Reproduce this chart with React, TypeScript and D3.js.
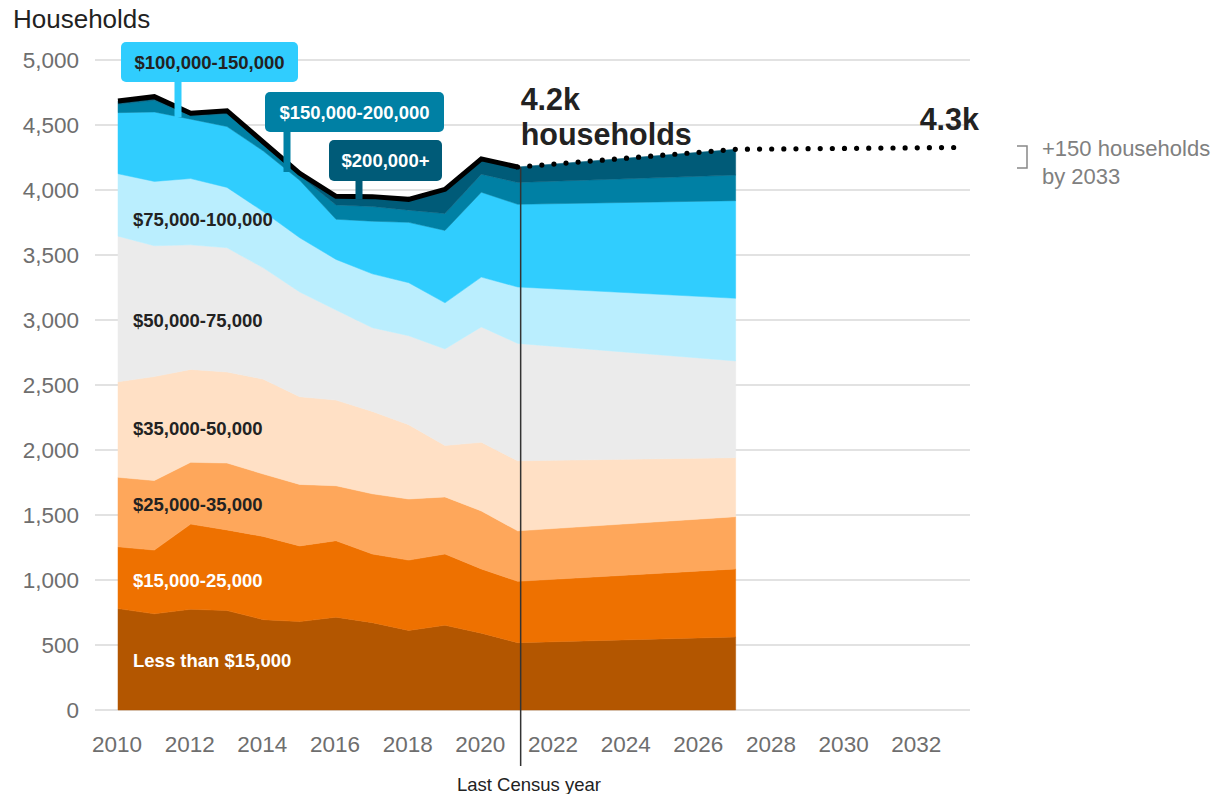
import React, { useRef, useEffect } from 'react';
import * as d3 from 'd3';

// Years with data (2010-2021 Census, 2027 projection).
const years = [2010, 2011, 2012, 2013, 2014, 2015, 2016, 2017, 2018, 2019, 2020, 2021, 2027];

// Households by income band.
const lessThan15k = [780, 740, 775, 765, 695, 680, 714, 672, 612, 652, 591, 518, 562];
const k15to25 = [475, 490, 655, 620, 640, 582, 588, 528, 541, 548, 494, 472, 523];
const k25to35 = [535, 535, 475, 515, 480, 473, 423, 463, 470, 439, 446, 388, 402];
const k35to50 = [735, 800, 715, 700, 730, 675, 659, 634, 572, 396, 528, 539, 454];
const k50to75 = [1120, 1006, 958, 956, 856, 806, 693, 644, 684, 742, 888, 903, 744];
const k75to100 = [480, 495, 510, 464, 433, 417, 389, 414, 408, 355, 383, 434, 482];
const k100to150 = [470, 534, 457, 468, 466, 442, 309, 405, 464, 557, 653, 636, 751];
const k150to200 = [65, 90, 25, 97, 45, 35, 110, 113, 94, 130, 139, 168, 197];
const k200plus = [25, 28, 20, 25, 24, 18, 66, 76, 83, 186, 117, 119, 198];

// Outlook to 2033.
const outlookYear = 2033;
const outlookTotal = 4327;
const lastCensusYear = 2021;

const yTicks = [0, 500, 1000, 1500, 2000, 2500, 3000, 3500, 4000, 4500, 5000];
const xTicks = [2010, 2012, 2014, 2016, 2018, 2020, 2022, 2024, 2026, 2028, 2030, 2032];

const series = [
  { key: 'lt15', label: 'Less than $15,000', values: lessThan15k, color: '#b35600' },
  { key: 'k15', label: '$15,000-25,000', values: k15to25, color: '#ee7100' },
  { key: 'k25', label: '$25,000-35,000', values: k25to35, color: '#fea75b' },
  { key: 'k35', label: '$35,000-50,000', values: k35to50, color: '#ffe0c5' },
  { key: 'k50', label: '$50,000-75,000', values: k50to75, color: '#ebebeb' },
  { key: 'k75', label: '$75,000-100,000', values: k75to100, color: '#baeefe' },
  { key: 'k100', label: '$100,000-150,000', values: k100to150, color: '#30cdfe' },
  { key: 'k150', label: '$150,000-200,000', values: k150to200, color: '#0080a4' },
  { key: 'k200', label: '$200,000+', values: k200plus, color: '#005b78' },
];

const FONT = '"Liberation Sans", Arial, sans-serif';

const App = () => {
  const ref = useRef<SVGSVGElement>(null);

  useEffect(() => {
    const svg = d3.select(ref.current);
    svg.selectAll('*').remove();

    const x = d3.scaleLinear().domain([2010, 2033.45]).range([118, 970]);
    const y = d3.scaleLinear().domain([0, 5000]).range([710, 60]);

    // Gridlines.
    svg.append('g')
      .selectAll('line')
      .data(yTicks)
      .join('line')
      .attr('x1', 95)
      .attr('x2', 970)
      .attr('y1', d => y(d))
      .attr('y2', d => y(d))
      .attr('stroke', '#d9d9d9')
      .attr('stroke-width', 1.5);

    // Y tick labels.
    svg.append('g')
      .selectAll('text')
      .data(yTicks)
      .join('text')
      .attr('x', 79)
      .attr('y', d => y(d) + 7.5)
      .attr('text-anchor', 'end')
      .style('font-family', FONT)
      .style('font-size', '22.5px')
      .attr('fill', '#6e6e6e')
      .text(d => d3.format(',')(d));

    // X tick labels.
    svg.append('g')
      .selectAll('text')
      .data(xTicks)
      .join('text')
      .attr('x', d => x(d) - 1)
      .attr('y', 752)
      .attr('text-anchor', 'middle')
      .style('font-family', FONT)
      .style('font-size', '22.5px')
      .attr('fill', '#6e6e6e')
      .text(d => d);

    svg.append('text')
      .attr('x', 13)
      .attr('y', 28)
      .style('font-family', FONT)
      .style('font-size', '26px')
      .attr('fill', '#222')
      .text('Households');

    // Stacked areas.
    const table = years.map((yr, i) => {
      const row: any = { year: yr };
      series.forEach(s => { row[s.key] = s.values[i]; });
      return row;
    });
    const stack = d3.stack().keys(series.map(s => s.key));
    const stacked = stack(table);

    const area = d3.area<any>()
      .x(d => x(d.data.year))
      .y0(d => y(d[0]))
      .y1(d => y(d[1]));

    svg.append('g')
      .selectAll('path')
      .data(stacked)
      .join('path')
      .attr('d', d => area(d))
      .attr('fill', (d, i) => series[i].color)
      .attr('stroke', (d, i) => series[i].color)
      .attr('stroke-width', 0.5);

    // Total line (Census years) and dotted outlook.
    const top = stacked[stacked.length - 1];
    const totals = top.map(d => ({ year: d.data.year, value: d[1] }));
    const line = d3.line<any>().x(d => x(d.year)).y(d => y(d.value));

    svg.append('path')
      .attr('d', line(totals.filter(d => d.year <= lastCensusYear)))
      .attr('fill', 'none')
      .attr('stroke', '#000')
      .attr('stroke-width', 5)
      .attr('stroke-linejoin', 'miter');

    const outlook = totals.filter(d => d.year >= lastCensusYear)
      .concat([{ year: outlookYear, value: outlookTotal }]);
    const dotted = svg.append('path')
      .attr('d', line(outlook))
      .attr('fill', 'none')
      .attr('stroke', '#000')
      .attr('stroke-width', 5.2)
      .attr('stroke-linecap', 'round');
    const len = (dotted.node() as SVGPathElement).getTotalLength();
    const gap = len / Math.round(len / 12.3);
    dotted.attr('stroke-dasharray', `0 ${gap}`);

    // Last Census year marker.
    const cx = x(lastCensusYear) + 3;
    svg.append('line')
      .attr('x1', cx)
      .attr('x2', cx)
      .attr('y1', y(totals[years.indexOf(lastCensusYear)].value))
      .attr('y2', 766)
      .attr('stroke', '#333')
      .attr('stroke-width', 1.5);

    svg.append('text')
      .attr('x', 529)
      .attr('y', 791)
      .attr('text-anchor', 'middle')
      .style('font-family', FONT)
      .style('font-size', '18.5px')
      .attr('fill', '#222')
      .text('Last Census year');

    // Big annotations.
    const big = svg.append('g')
      .style('font-family', FONT)
      .style('font-size', '30.5px')
      .style('font-weight', 'bold')
      .attr('fill', '#222');
    big.append('text').attr('x', cx).attr('y', 110).text('4.2k');
    big.append('text').attr('x', cx).attr('y', 145).text('households');
    big.append('text').attr('x', 979).attr('y', 130).attr('text-anchor', 'end').text('4.3k');

    // +150 bracket.
    svg.append('path')
      .attr('d', 'M1017,146 H1027 V168 H1017')
      .attr('fill', 'none')
      .attr('stroke', '#888')
      .attr('stroke-width', 1.5);
    const note = svg.append('g')
      .style('font-family', FONT)
      .style('font-size', '22px')
      .attr('fill', '#808080');
    note.append('text').attr('x', 1042).attr('y', 156).text('+150 households');
    note.append('text').attr('x', 1042).attr('y', 184).text('by 2033');

    // In-area labels.
    const areaLabels = [
      { key: 'k75', y: 226, fill: '#222' },
      { key: 'k50', y: 327, fill: '#222' },
      { key: 'k35', y: 435, fill: '#222' },
      { key: 'k25', y: 511, fill: '#222' },
      { key: 'k15', y: 587, fill: '#fff' },
      { key: 'lt15', y: 667, fill: '#fff' },
    ];
    svg.append('g')
      .selectAll('text')
      .data(areaLabels)
      .join('text')
      .attr('x', 133)
      .attr('y', d => d.y)
      .style('font-family', FONT)
      .style('font-size', '18.5px')
      .style('font-weight', 'bold')
      .attr('fill', d => d.fill)
      .text(d => series.find(s => s.key === d.key)!.label);

    // Callout boxes for the top bands.
    const callouts = [
      { key: 'k100', x: 121, y: 42, w: 177, h: 40, stemX: 178, stemEnd: 117, fill: '#222' },
      { key: 'k150', x: 265, y: 92, w: 179, h: 40, stemX: 287, stemEnd: 172, fill: '#fff' },
      { key: 'k200', x: 329, y: 140, w: 113, h: 41, stemX: 359, stemEnd: 199, fill: '#fff' },
    ];
    callouts.forEach(c => {
      const s = series.find(d => d.key === c.key)!;
      const g = svg.append('g');
      g.append('rect')
        .attr('x', c.stemX - 3.5)
        .attr('y', c.y + c.h - 2)
        .attr('width', 7)
        .attr('height', c.stemEnd - (c.y + c.h - 2))
        .attr('fill', s.color);
      g.append('rect')
        .attr('x', c.x)
        .attr('y', c.y)
        .attr('width', c.w)
        .attr('height', c.h)
        .attr('rx', 5)
        .attr('fill', s.color);
      g.append('text')
        .attr('x', c.x + c.w / 2)
        .attr('y', c.y + c.h / 2 + 6.5)
        .attr('text-anchor', 'middle')
        .style('font-family', FONT)
        .style('font-size', '18.5px')
        .style('font-weight', 'bold')
        .attr('fill', c.fill)
        .text(s.label);
    });
  }, []);

  return (
    <svg
      ref={ref}
      width={1232}
      height={794}
      style={{ position: 'absolute', left: 0, top: 0, background: '#fff' }}
    />
  );
};

export default App;
